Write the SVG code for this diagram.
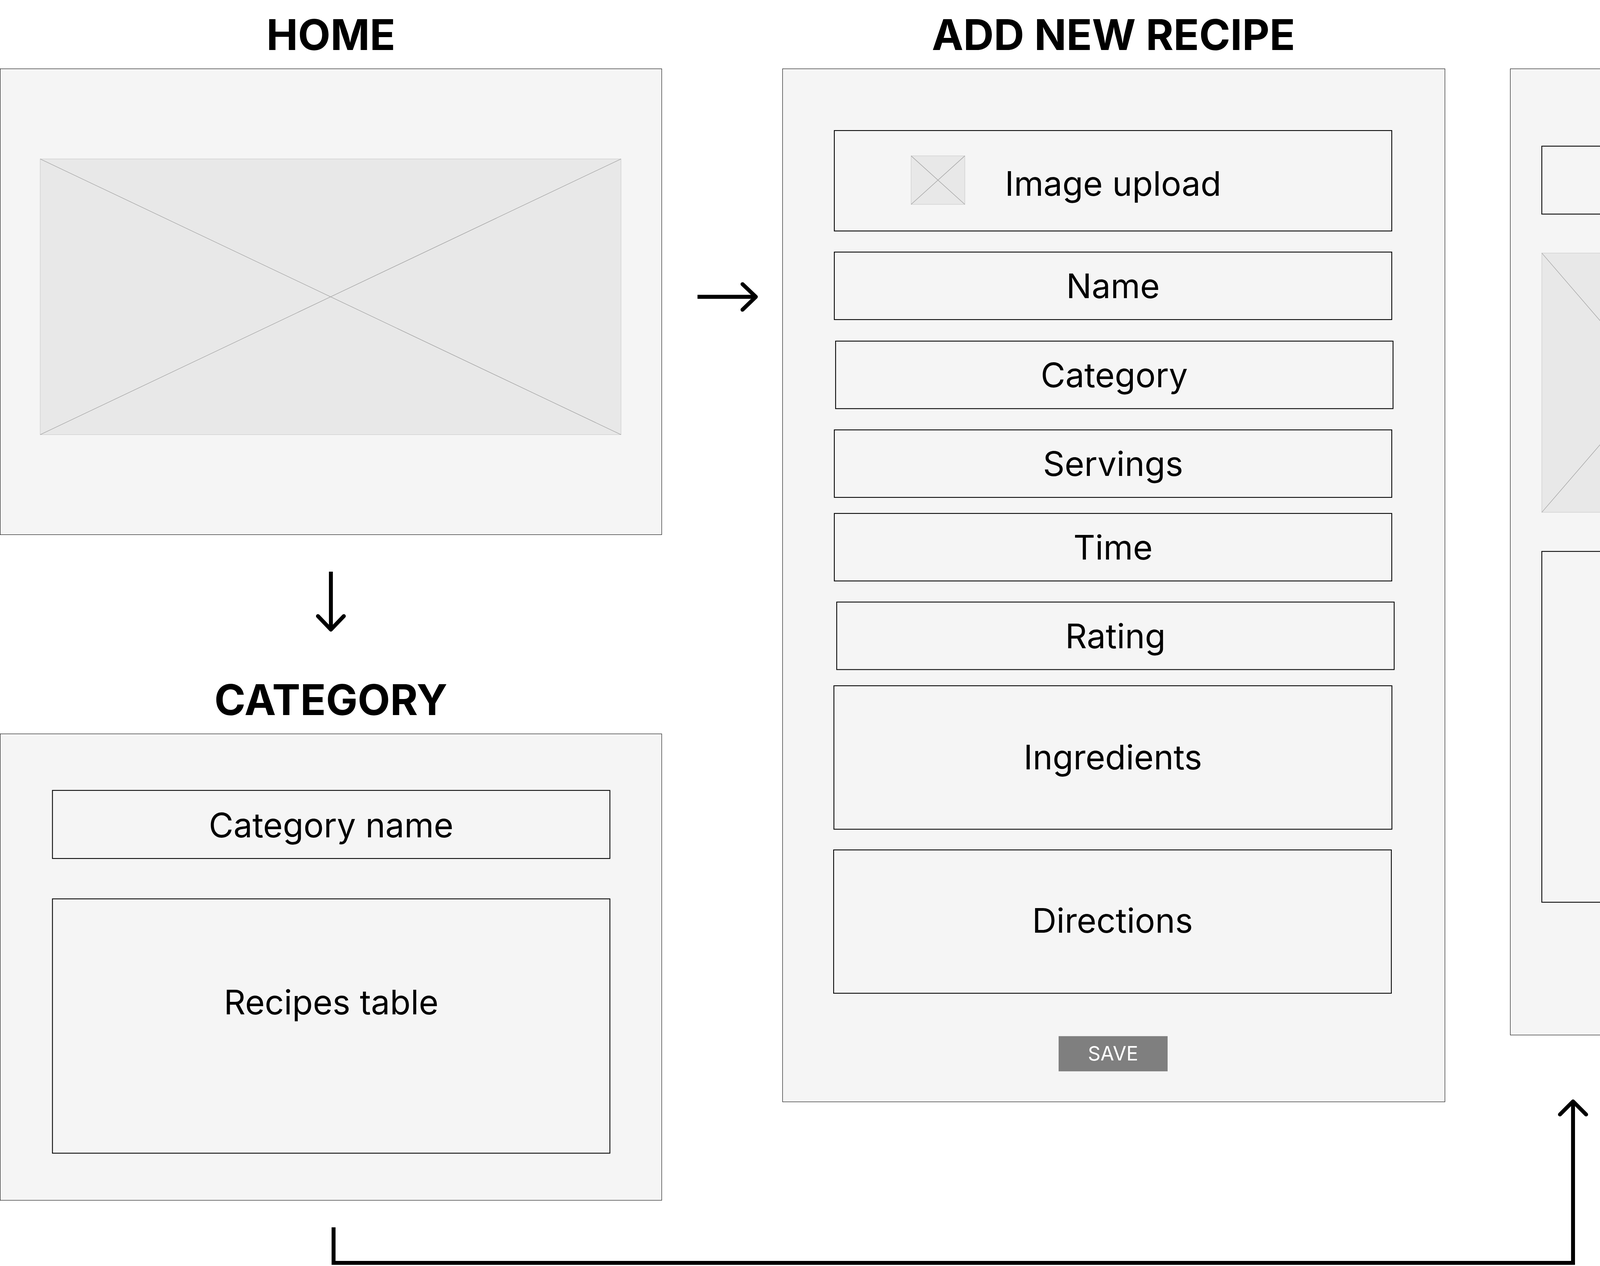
<svg xmlns="http://www.w3.org/2000/svg" width="5645" height="3240" viewBox="0 0 5645 3240">
<style>
.bg{fill:#ffffff}
.frame{fill:#f5f5f5;stroke:#000;stroke-width:0.3}
.box{fill:#f5f5f5;stroke:#000;stroke-width:0.6}
.ph{fill:#e8e8e8;stroke:#c8c8c8;stroke-width:0.3}
.diag{stroke:#a8a8a8;stroke-width:0.4;fill:none}
.title{font-family:Inter,"Liberation Sans",sans-serif;font-weight:700;font-size:30px;fill:#000;text-anchor:middle}
.lbl{font-family:Inter,"Liberation Sans",sans-serif;font-weight:400;font-size:24px;fill:#000;text-anchor:middle}
.btn{fill:#7f7f7f}
.btntxt{font-family:Inter,"Liberation Sans",sans-serif;font-weight:400;font-size:14px;fill:#ffffff;text-anchor:middle}
.conn{fill:none;stroke:#000;stroke-width:2.8;stroke-linejoin:miter}
.head{fill:none;stroke:#000;stroke-width:2.8;stroke-linecap:round;stroke-linejoin:round}
</style>
<rect class="bg" x="0" y="0" width="5645" height="3240"/>
<g transform="scale(3.6)">
  <g id="home">
    <text class="title" x="235.3" y="35.6">HOME</text>
    <rect class="frame" x="0.15" y="48.9" width="470.4" height="331.2"/>
    <rect class="ph" x="28.6" y="113" width="413" height="196"/>
    <path class="diag" d="M28.6 113 L441.6 309 M441.6 113 L28.6 309"/>
  </g>
  <g id="category">
    <text class="title" x="235.3" y="508.3">CATEGORY</text>
    <rect class="frame" x="0.15" y="521.7" width="470.4" height="331.6"/>
    <rect class="box" x="37.3" y="561.9" width="396.4" height="48.4"/>
    <text class="lbl" x="235.5" y="595.2">Category name</text>
    <rect class="box" x="37.3" y="639" width="396.4" height="180.8"/>
    <text class="lbl" x="235.5" y="721">Recipes table</text>
  </g>
  <g id="add-new-recipe">
    <text class="title" x="791.8" y="35.6">ADD NEW RECIPE</text>
    <rect class="frame" x="556.5" y="48.9" width="471" height="734.4"/>
    <rect class="box" x="593.3" y="92.8" width="396.4" height="71.4"/>
    <rect class="ph" x="647.9" y="110.8" width="38.2" height="34.5"/>
    <path class="diag" d="M647.9 110.8 L686.1 145.3 M686.1 110.8 L647.9 145.3"/>
    <text class="lbl" x="791.5" y="139.2">Image upload</text>
    <rect class="box" x="593.3" y="179.2" width="396.4" height="48"/>
    <text class="lbl" x="791.5" y="212">Name</text>
    <rect class="box" x="594.2" y="242.5" width="396.4" height="48"/>
    <text class="lbl" x="792.4" y="275.3">Category</text>
    <rect class="box" x="593.3" y="305.6" width="396.4" height="48"/>
    <text class="lbl" x="791.5" y="338.3">Servings</text>
    <rect class="box" x="593.3" y="365" width="396.4" height="48"/>
    <text class="lbl" x="791.5" y="397.7">Time</text>
    <rect class="box" x="595" y="428" width="396.4" height="48"/>
    <text class="lbl" x="793.2" y="460.7">Rating</text>
    <rect class="box" x="593" y="487.5" width="396.8" height="102"/>
    <text class="lbl" x="791.4" y="547">Ingredients</text>
    <rect class="box" x="592.8" y="604.2" width="396.6" height="101.9"/>
    <text class="lbl" x="791.1" y="663">Directions</text>
    <rect class="btn" x="752.8" y="736.6" width="77.5" height="25"/>
    <text class="btntxt" x="791.5" y="754">SAVE</text>
  </g>
  <g id="recipe">
    <text class="title" x="1309.3" y="35.6">RECIPE</text>
    <rect class="frame" x="1074" y="48.9" width="470.6" height="686.9"/>
    <rect class="box" x="1452.7" y="67.2" width="62.8" height="30"/>
    <rect class="box" x="1096.4" y="103.9" width="158.9" height="48.3"/>
    <text class="lbl" x="1175.8" y="137">Name</text>
    <rect class="ph" x="1096.4" y="179.9" width="158.9" height="184.3"/>
    <path class="diag" d="M1096.4 179.9 L1255.3 364.2 M1255.3 179.9 L1096.4 364.2"/>
    <rect class="box" x="1299.8" y="103.9" width="215.6" height="260.3"/>
    <text class="lbl" x="1407.6" y="240">Ingredients</text>
    <rect class="box" x="1096.4" y="392" width="158.9" height="249.4"/>
    <text class="lbl" x="1175.8" y="487.3">Other</text>
    <text class="lbl" x="1175.8" y="517.5">recipe</text>
    <text class="lbl" x="1175.8" y="547.8">info</text>
    <rect class="box" x="1299.8" y="381" width="215.6" height="260.4"/>
    <text class="lbl" x="1407.6" y="517.5">Directions</text>
  </g>
  <g id="edit-delete">
    <text class="title" x="1363.6" y="852">EDIT RECIPE/</text>
    <text class="title" x="1363.6" y="888">DELETE RECIPE</text>
  </g>
  <g id="connectors">
    <line class="conn" x1="496" y1="211" x2="537" y2="211"/>
    <path class="head" d="M528 202 L537.5 211 L528 220.2"/>
    <line class="conn" x1="235.3" y1="406.4" x2="235.3" y2="447"/>
    <path class="head" d="M226.1 438 L235.3 447.6 L244.5 438"/>
    <path class="conn" d="M237.2 872.5 V897.8 H1118.6 V783.5"/>
    <path class="head" d="M1109.3 792.3 L1118.6 783 L1127.9 792.3"/>
    <path class="conn" d="M1499.7 83.6 H1566.7 V853.2 H1500"/>
    <path class="head" d="M1508.5 843.8 L1499.2 853.2 L1508.5 862.6"/>
  </g>
</g>
</svg>
